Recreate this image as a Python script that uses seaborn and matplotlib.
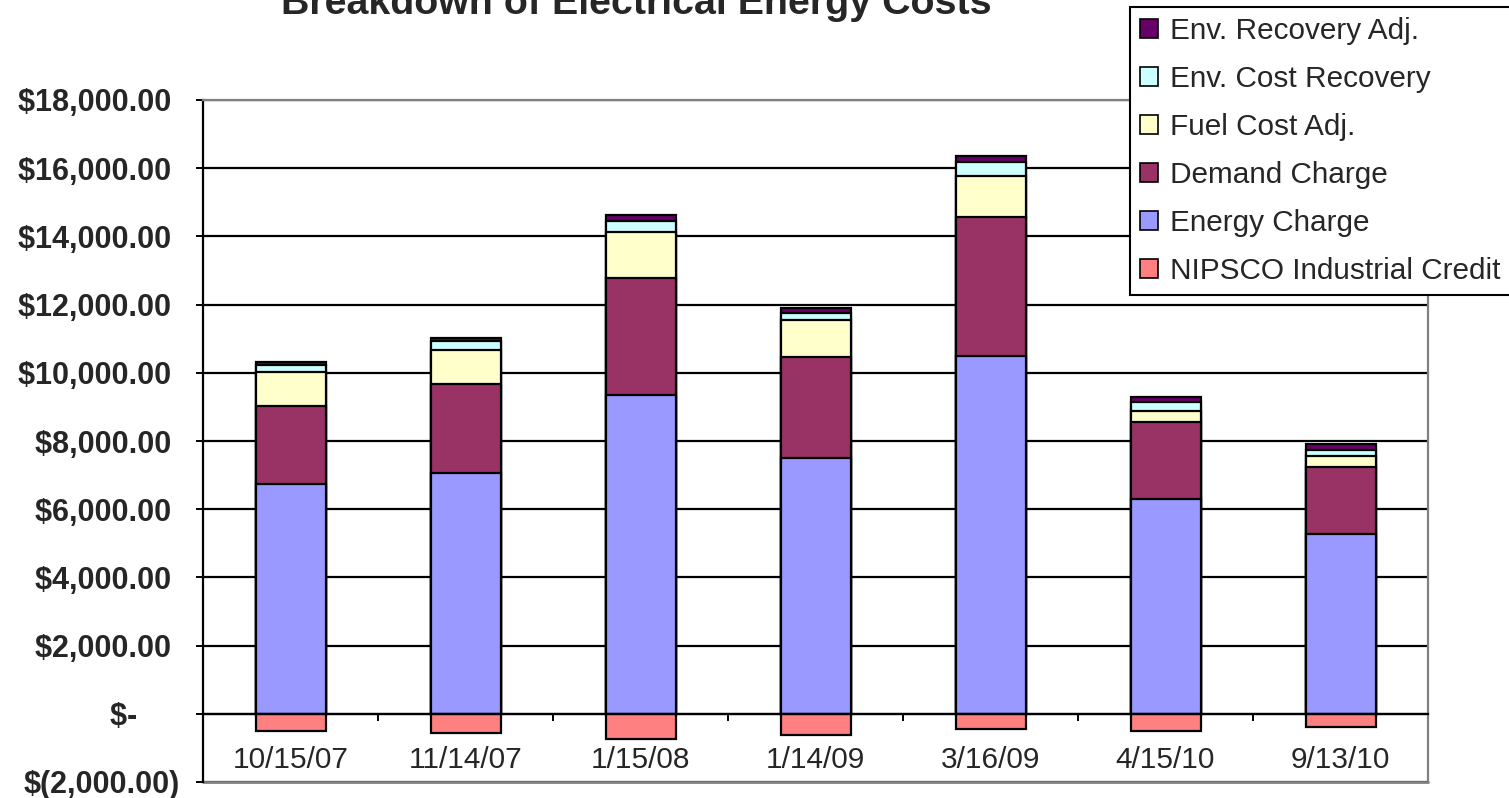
import numpy as np
import pandas as pd
import matplotlib
matplotlib.use("Agg")
import matplotlib.pyplot as plt
import matplotlib.patches as mpatches
from matplotlib.ticker import FuncFormatter, FixedLocator
import seaborn as sns

# ---- data ----
dates = ["10/15/07", "11/14/07", "1/15/08", "1/14/09", "3/16/09", "4/15/10", "9/13/10"]
energy_charge = [6745, 7067, 9340, 7507, 10504, 6285, 5280]
demand_charge = [2295, 2608, 3440, 2965, 4064, 2285, 1963]
fuel_cost_adj = [995, 996, 1337, 1087, 1212, 323, 310]
env_cost_recovery = [205, 252, 322, 196, 410, 255, 197]
env_recovery_adj = [90, 100, 196, 147, 175, 152, 167]
nipsco_credit = [-500, -550, -750, -620, -450, -500, -380]

series_names = ["Energy Charge", "Demand Charge", "Fuel Cost Adj.",
                "Env. Cost Recovery", "Env. Recovery Adj."]
series_values = [energy_charge, demand_charge, fuel_cost_adj,
                 env_cost_recovery, env_recovery_adj]
colors = {"Energy Charge": "#9999FF", "Demand Charge": "#993366",
          "Fuel Cost Adj.": "#FFFFCC", "Env. Cost Recovery": "#CCFFFF",
          "Env. Recovery Adj.": "#660066", "NIPSCO Industrial Credit": "#FF8080"}

sns.set_theme(style="white")
plt.rcParams["font.family"] = ["Liberation Sans", "DejaVu Sans"]

fig = plt.figure(figsize=(15.09, 7.98), dpi=100)
ax = fig.add_axes([203 / 1509, 1 - 782 / 798, (1428 - 203) / 1509, (782 - 100) / 798])

# gridlines behind bars
ax.set_axisbelow(True)
ax.yaxis.grid(True, color="black", linewidth=1.6)
ax.xaxis.grid(False)

# stacked bars: draw cumulative totals from the top layer down
cum = np.cumsum(np.array(series_values, dtype=float), axis=0)
for i in range(len(series_names) - 1, -1, -1):
    df = pd.DataFrame({"date": dates, "value": cum[i]})
    sns.barplot(data=df, x="date", y="value", color=colors[series_names[i]],
                saturation=1, width=0.4, edgecolor="black", linewidth=1.6,
                ax=ax, zorder=3)
df_c = pd.DataFrame({"date": dates, "value": nipsco_credit})
sns.barplot(data=df_c, x="date", y="value", color=colors["NIPSCO Industrial Credit"],
            saturation=1, width=0.4, edgecolor="black", linewidth=1.6, ax=ax, zorder=3)

ax.set_ylim(-2000, 18000)
ax.set_xlim(-0.5, len(dates) - 0.5)
ax.set_yticks(np.arange(-2000, 18001, 2000))


def money(v, pos=None):
    if abs(v) < 1e-9:
        return "$-     "
    if v < 0:
        return "$({:,.2f})".format(-v)
    return "${:,.2f} ".format(v)


ax.yaxis.set_major_formatter(FuncFormatter(money))
ax.set_xlabel("")
ax.set_ylabel("")

# spines
ax.spines["left"].set_color("black")
ax.spines["left"].set_linewidth(1.6)
ax.spines["bottom"].set_position(("data", 0))
ax.spines["bottom"].set_color("black")
ax.spines["bottom"].set_linewidth(1.6)
ax.spines["bottom"].set_zorder(4)
ax.spines["top"].set_color("#808080")
ax.spines["top"].set_linewidth(1.6)
ax.spines["right"].set_color("#808080")
ax.spines["right"].set_linewidth(1.6)
ax.axhline(-2000, color="#808080", linewidth=2.0, clip_on=False, zorder=1)

ax.tick_params(axis="y", which="major", direction="out", length=5, width=1.4,
               color="black", left=True, pad=12, labelsize=22)
for lab in ax.get_yticklabels():
    lab.set_fontweight("bold")

ax.xaxis.set_minor_locator(FixedLocator(np.arange(0.5, len(dates) - 0.5, 1.0)))
ax.tick_params(axis="x", which="minor", direction="out", length=5, width=1.4,
               color="black", bottom=True)
ax.tick_params(axis="x", which="major", length=0, pad=23, labelsize=21.5)

# title
fig.text(636 / 1509, 1 - 14 / 798, "Breakdown of Electrical Energy Costs",
         ha="center", va="baseline", fontsize=28.4, fontweight="bold")

# legend
legend_order = ["Env. Recovery Adj.", "Env. Cost Recovery", "Fuel Cost Adj.",
                "Demand Charge", "Energy Charge", "NIPSCO Industrial Credit"]
handles = [mpatches.Patch(facecolor=colors[n], edgecolor="black", linewidth=1.2, label=n)
           for n in legend_order]
leg = fig.legend(handles=handles, loc="upper left",
                 bbox_to_anchor=(1130 / 1509, 1 - 7 / 798), fontsize=21.4,
                 frameon=True, fancybox=False, edgecolor="black", framealpha=1,
                 handlelength=0.6, handleheight=0.6, handletextpad=0.4,
                 labelspacing=0.67, borderpad=0.35, borderaxespad=0)
leg.get_frame().set_linewidth(1.5)

fig.savefig("out.png", dpi=100)
